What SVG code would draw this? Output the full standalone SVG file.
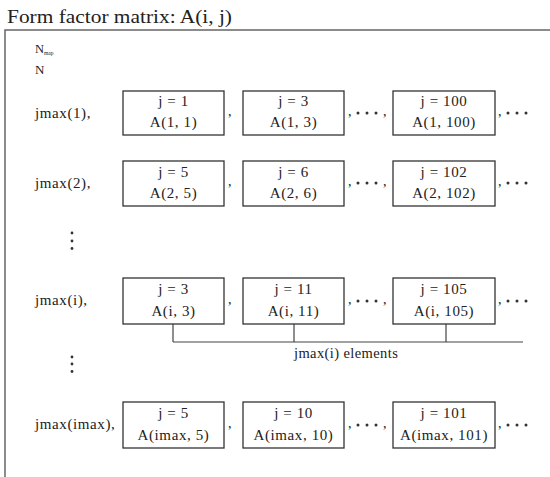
<svg xmlns="http://www.w3.org/2000/svg" width="550" height="477" viewBox="0 0 550 477" font-family="'Liberation Serif', 'DejaVu Serif', serif">
<style>
text{font-family:'Liberation Serif','DejaVu Serif',serif;fill:#222}
.t{font-size:15px;letter-spacing:0.6px}
.c{text-anchor:middle}
.box{fill:#fff;stroke:#333;stroke-width:1.3}
.ln{fill:none;stroke:#444;stroke-width:1.2}
.cm{font-size:14px}
.dot{fill:#333}
</style>
<rect width="550" height="477" fill="#fff"/>
<text x="7" y="23" font-size="18" textLength="225" lengthAdjust="spacingAndGlyphs">Form factor matrix: A(i, j)</text>
<path d="M5,477 V30 H550" fill="none" stroke="#666" stroke-width="1.5"/>
<text x="35" y="53" font-size="12.5">N<tspan font-size="5.5" dy="2">map</tspan></text>
<text x="35" y="74" font-size="13">N</text>
<text class="t" x="35" y="118">jmax(1),</text>
<text class="t" x="35" y="188">jmax(2),</text>
<text class="t" x="35" y="305">jmax(i),</text>
<text class="t" x="35" y="429">jmax(imax),</text>
<g id="vdots1"><circle class="dot" cx="72" cy="233" r="1.4"/><circle class="dot" cx="72" cy="241" r="1.4"/><circle class="dot" cx="72" cy="248.5" r="1.4"/></g>
<g id="vdots2"><circle class="dot" cx="72" cy="357" r="1.4"/><circle class="dot" cx="72" cy="364" r="1.4"/><circle class="dot" cx="72" cy="371.5" r="1.4"/></g>
<g id="connectors">
<path class="ln" d="M173,324 V342 M294,324 V342 M446,324 V342 M173,342 H523"/>
</g>
<text x="294" y="358" font-size="14.5" letter-spacing="0.4">jmax(i) elements</text>
<g id="row1">
<rect class="box" x="123" y="91" width="101" height="44"/><text class="t c" x="173.5" y="106">j = 1</text><text class="t c" x="173.5" y="127">A(1, 1)</text>
<rect class="box" x="243" y="91" width="101" height="44"/><text class="t c" x="293.5" y="106">j = 3</text><text class="t c" x="293.5" y="127">A(1, 3)</text>
<rect class="box" x="393" y="91" width="102" height="44"/><text class="t c" x="444" y="106">j = 100</text><text class="t c" x="444" y="127">A(1, 100)</text>
</g>
<g id="row2">
<rect class="box" x="123" y="161" width="101" height="45"/><text class="t c" x="173.5" y="177">j = 5</text><text class="t c" x="173.5" y="198">A(2, 5)</text>
<rect class="box" x="243" y="161" width="101" height="45"/><text class="t c" x="293.5" y="177">j = 6</text><text class="t c" x="293.5" y="198">A(2, 6)</text>
<rect class="box" x="393" y="161" width="102" height="45"/><text class="t c" x="444" y="177">j = 102</text><text class="t c" x="444" y="198">A(2, 102)</text>
</g>
<g id="rowi">
<rect class="box" x="123" y="278" width="101" height="46"/><text class="t c" x="173.5" y="294">j = 3</text><text class="t c" x="173.5" y="316">A(i, 3)</text>
<rect class="box" x="243" y="278" width="101" height="46"/><text class="t c" x="293.5" y="294">j = 11</text><text class="t c" x="293.5" y="316">A(i, 11)</text>
<rect class="box" x="393" y="278" width="102" height="46"/><text class="t c" x="444" y="294">j = 105</text><text class="t c" x="444" y="316">A(i, 105)</text>
</g>
<g id="rowimax">
<rect class="box" x="123" y="402" width="101" height="46"/><text class="t c" x="173.5" y="418">j = 5</text><text class="t c" x="173.5" y="440">A(imax, 5)</text>
<rect class="box" x="243" y="402" width="101" height="46"/><text class="t c" x="293.5" y="418">j = 10</text><text class="t c" x="293.5" y="440">A(imax, 10)</text>
<rect class="box" x="393" y="402" width="102" height="46"/><text class="t c" x="444" y="418">j = 101</text><text class="t c" x="444" y="440">A(imax, 101)</text>
</g>
<g id="seps" class="cm">
<text class="cm" x="228" y="116">,</text><text class="cm" x="348" y="116">,</text><text class="cm" x="383" y="116">,</text><text class="cm" x="498" y="116">,</text>
<text class="cm" x="228" y="186">,</text><text class="cm" x="348" y="186">,</text><text class="cm" x="383" y="186">,</text><text class="cm" x="498" y="186">,</text>
<text class="cm" x="228" y="304">,</text><text class="cm" x="348" y="304">,</text><text class="cm" x="383" y="304">,</text><text class="cm" x="498" y="304">,</text>
<text class="cm" x="228" y="428">,</text><text class="cm" x="348" y="428">,</text><text class="cm" x="383" y="428">,</text><text class="cm" x="498" y="428">,</text>
</g>
<g id="hdots">
<circle class="dot" cx="358" cy="113" r="1.5"/><circle class="dot" cx="367" cy="113" r="1.5"/><circle class="dot" cx="376" cy="113" r="1.5"/>
<circle class="dot" cx="508" cy="113" r="1.5"/><circle class="dot" cx="517" cy="113" r="1.5"/><circle class="dot" cx="526" cy="113" r="1.5"/>
<circle class="dot" cx="358" cy="183" r="1.5"/><circle class="dot" cx="367" cy="183" r="1.5"/><circle class="dot" cx="376" cy="183" r="1.5"/>
<circle class="dot" cx="508" cy="183" r="1.5"/><circle class="dot" cx="517" cy="183" r="1.5"/><circle class="dot" cx="526" cy="183" r="1.5"/>
<circle class="dot" cx="358" cy="301" r="1.5"/><circle class="dot" cx="367" cy="301" r="1.5"/><circle class="dot" cx="376" cy="301" r="1.5"/>
<circle class="dot" cx="508" cy="301" r="1.5"/><circle class="dot" cx="517" cy="301" r="1.5"/><circle class="dot" cx="526" cy="301" r="1.5"/>
<circle class="dot" cx="358" cy="425" r="1.5"/><circle class="dot" cx="367" cy="425" r="1.5"/><circle class="dot" cx="376" cy="425" r="1.5"/>
<circle class="dot" cx="508" cy="425" r="1.5"/><circle class="dot" cx="517" cy="425" r="1.5"/><circle class="dot" cx="526" cy="425" r="1.5"/>
</g>
</svg>
